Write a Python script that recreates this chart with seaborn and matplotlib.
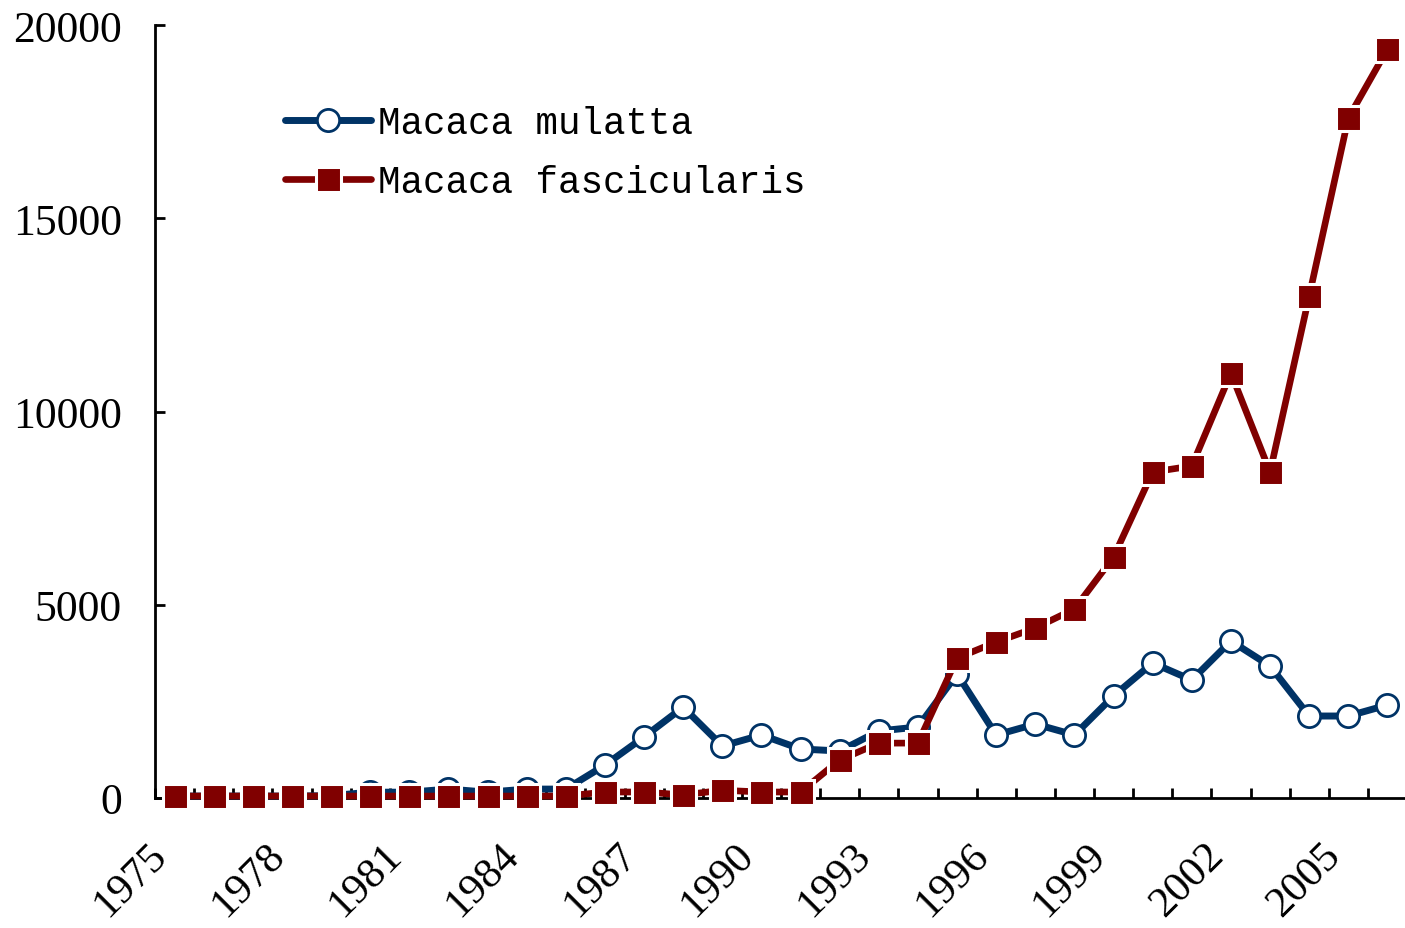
import matplotlib
matplotlib.use("Agg")
import matplotlib.pyplot as plt
import seaborn as sns
import numpy as np
from matplotlib.ticker import FixedLocator

years = list(range(1975, 2007))
mulatta = [50, 50, 50, 50, 60, 150, 150, 230, 150, 230, 230, 850,
           1580, 2350, 1345, 1630, 1268, 1216, 1733, 1837, 3208, 1630,
           1914, 1630, 2640, 3492, 3053, 4062, 3415, 2121, 2121, 2406]
fascicularis = [50, 50, 50, 50, 50, 50, 50, 50, 50, 50, 50, 155,
                155, 80, 200, 155, 155, 983, 1420, 1420, 3620, 4036,
                4400, 4890, 6235, 8434, 8590, 10995, 8434, 12987, 17592, 19376]
labels = ["Macaca mulatta", "Macaca fascicularis"]
xtick_years = list(range(1975, 2006, 3))
ytick_vals = [0, 5000, 10000, 15000, 20000]

sns.set_style("ticks")
plt.rcParams['font.family'] = ['Liberation Serif', 'DejaVu Serif']
plt.rcParams['text.color'] = 'black'
plt.rcParams['xtick.color'] = 'black'
plt.rcParams['ytick.color'] = 'black'

navy = "#003366"
dark_red = "#800000"

fig = plt.figure(figsize=(14.05, 9.29), dpi=100)
ax = fig.add_axes([155/1405, 130/929, 1252/1405, 773/929])

sns.lineplot(x=years, y=mulatta, ax=ax, color=navy, linewidth=5.0,
             marker='o', markersize=16, markerfacecolor='white',
             markeredgecolor=navy, markeredgewidth=2.0, label=labels[0],
             clip_on=False, zorder=3)
sns.lineplot(x=years, y=fascicularis, ax=ax, color=dark_red, linewidth=4.8,
             marker='s', markersize=18, markerfacecolor=dark_red,
             markeredgecolor='white', markeredgewidth=2.2, label=labels[1],
             clip_on=False, zorder=4)

ax.set_xlim(1974.5, 2006.5)
ax.set_ylim(0, 20000)
ax.xaxis.set_major_locator(FixedLocator(xtick_years))
ax.xaxis.set_minor_locator(FixedLocator(np.arange(1974.5, 2007, 1.0)))
ax.set_xticklabels([str(y) for y in xtick_years], rotation=45, ha='right',
                   va='top', fontsize=31, color='black')
ax.tick_params(axis='x', which='major', length=0, pad=27)
ax.tick_params(axis='x', which='minor', length=7, width=2, direction='in',
               color='black')
ax.set_yticks(ytick_vals)
ax.set_yticklabels([str(v) for v in ytick_vals], fontsize=31.5, color='black')
ax.tick_params(axis='y', which='major', length=7, width=2, direction='in',
               pad=24, color='black')

for s in ['top', 'right']:
    ax.spines[s].set_visible(False)
for s in ['left', 'bottom']:
    ax.spines[s].set_linewidth(2)
    ax.spines[s].set_color('black')
ax.set_xlabel("")
ax.set_ylabel("")

leg = ax.legend(loc='upper left', bbox_to_anchor=(0.1035, 0.896),
                frameon=False, borderaxespad=0, borderpad=0,
                handlelength=2.3, handletextpad=0.2, labelspacing=0.6,
                prop={'family': 'Liberation Mono', 'size': 27})
for t in leg.get_texts():
    t.set_color('black')

fig.savefig("out.png", dpi=100)
